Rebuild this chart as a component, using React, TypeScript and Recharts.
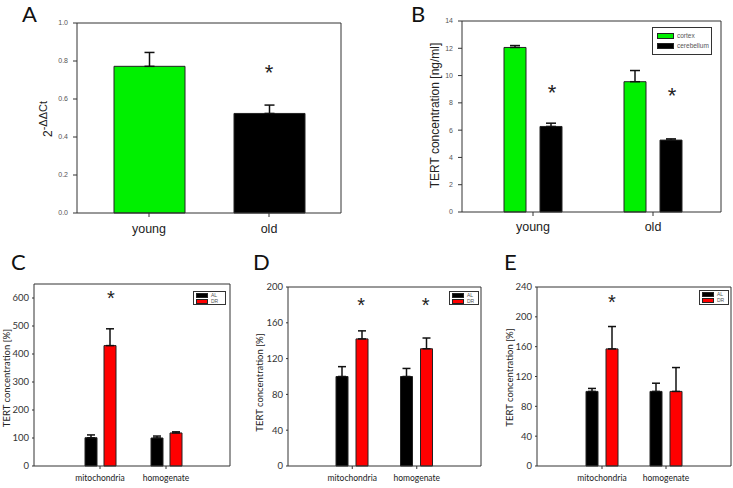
import React from "react";
import { BarChart, Bar, Cell, XAxis, YAxis, ErrorBar, ReferenceDot, Legend } from "recharts";

const ARIAL = '"Liberation Sans", Arial, sans-serif';
const CALIBRI = 'Lato, "Open Sans", sans-serif';
const GREEN = "#00f000";
const RED = "#ff0000";
const BLACK = "#000000";
const EDGE = "#222";

// A: 2^-ddCt by age
const ageGroups = ["young", "old"];
const exprA = [0.772, 0.524];
const exprErrA = [0.073, 0.044];
const starsA = [{ x: "old", y: 0.733 }];
const ticksA = [0, 0.2, 0.4, 0.6, 0.8, 1.0];

// B: TERT ng/ml, cortex vs cerebellum
const cortexB = [12.06, 9.55];
const cortexErrB = [0.14, 0.82];
const cerebellumB = [6.27, 5.27];
const cerebellumErrB = [0.24, 0.09];
const starsB = [{ x: "young", y: 8.65 }, { x: "old", y: 8.45 }];
const ticksB = [0, 2, 4, 6, 8, 10, 12, 14];
const seriesB = ["cortex", "cerebellum"];

// C-E: TERT % in mitochondria / homogenate, AL vs DR
const fractions = ["mitochondria", "homogenate"];
const dietGroups = ["AL", "DR"];

const alC = [101, 100];
const alErrC = [10, 7];
const drC = [430, 118];
const drErrC = [60, 4];
const starsC = [{ x: "mitochondria", y: 595 }];
const ticksC = [0, 100, 200, 300, 400, 500, 600];

const alD = [100, 100];
const alErrD = [11, 9];
const drD = [142, 131];
const drErrD = [9, 12];
const starsD = [{ x: "mitochondria", y: 178 }, { x: "homogenate", y: 178 }];
const ticksD = [0, 40, 80, 120, 160, 200];

const alE = [100, 100];
const alErrE = [4, 11];
const drE = [157, 100];
const drErrE = [30, 32];
const starsE = [{ x: "mitochondria", y: 218 }];
const ticksE = [0, 40, 80, 120, 160, 200, 240];

const barColorsA = [GREEN, BLACK];

const rowsA = ageGroups.map((g, i) => ({ group: g, value: exprA[i], err: [0, exprErrA[i]] }));
const rowsB = ageGroups.map((g, i) => ({
  group: g,
  cortex: cortexB[i],
  cortexErr: [0, cortexErrB[i]],
  cerebellum: cerebellumB[i],
  cerebellumErr: [0, cerebellumErrB[i]],
}));
const makeRows = (al: number[], alErr: number[], dr: number[], drErr: number[]) =>
  fractions.map((f, i) => ({ group: f, AL: al[i], alErr: [0, alErr[i]], DR: dr[i], drErr: [0, drErr[i]] }));
const rowsC = makeRows(alC, alErrC, drC, drErrC);
const rowsD = makeRows(alD, alErrD, drD, drErrD);
const rowsE = makeRows(alE, alErrE, drE, drErrE);

// eslint-disable-next-line @typescript-eslint/no-explicit-any
function VLabel({ viewBox, text, bx, dy = 0, size, family, sup }: any) {
  if (!viewBox) return null;
  const x = viewBox.x + bx;
  const y = viewBox.y + viewBox.height / 2 + dy;
  return (
    <text
      x={x}
      y={y}
      transform={`rotate(-90 ${x} ${y})`}
      textAnchor="middle"
      fontSize={size}
      fontFamily={family}
      fill="#222"
    >
      {text}
      {sup && (
        <tspan dy={-5} fontSize={size - 1}>
          {sup}
        </tspan>
      )}
    </text>
  );
}

function starShape(dx: number, size: number) {
  // eslint-disable-next-line @typescript-eslint/no-explicit-any
  return (p: any) => (
    <text x={p.cx + dx} y={p.cy + size * 0.28} textAnchor="middle" fontSize={size} fontFamily={ARIAL} fill="#222">
      *
    </text>
  );
}

type LegendItem = { name: string; color: string };

function BoxLegend({ items, font, size, sw, sh, gap, pad }: {
  items: LegendItem[];
  font: string;
  size: number;
  sw: number;
  sh: number;
  gap: number;
  pad: string;
}) {
  return (
    <div
      style={{
        boxSizing: "border-box",
        width: "100%",
        height: "100%",
        border: "1px solid #333",
        background: "#fff",
        padding: pad,
        display: "flex",
        flexDirection: "column",
        justifyContent: "center",
        gap,
      }}
    >
      {items.map((it) => (
        <div key={it.name} style={{ display: "flex", alignItems: "center" }}>
          <span
            style={{
              width: sw,
              height: sh,
              boxSizing: "border-box",
              background: it.color,
              border: "1px solid #222",
              flexShrink: 0,
            }}
          />
          <span style={{ marginLeft: 3, fontSize: size, lineHeight: 1, color: "#555", fontFamily: font }}>
            {it.name}
          </span>
        </div>
      ))}
    </div>
  );
}

const frameStroke = "#333";

function PanelA() {
  return (
    <BarChart width={370} height={245} data={rowsA} margin={{ top: 22, right: 28, left: 0, bottom: 0 }}>
      <XAxis
        dataKey="group"
        height={32}
        padding={{ left: 12, right: 12 }}
        tickSize={4}
        tickMargin={7}
        tick={{ fontSize: 12.5, fill: "#222", fontFamily: ARIAL }}
        axisLine={{ stroke: frameStroke }}
        tickLine={{ stroke: frameStroke }}
      />
      <XAxis xAxisId="top" dataKey="group" orientation="top" height={1} tick={false} tickLine={false} axisLine={{ stroke: frameStroke }} />
      <YAxis
        width={77}
        domain={[0, 1]}
        ticks={ticksA}
        interval={0}
        tickFormatter={(v: number) => v.toFixed(1)}
        tickSize={4}
        tickMargin={5}
        tick={{ fontSize: 7, fill: "#555", fontFamily: ARIAL }}
        axisLine={{ stroke: frameStroke }}
        tickLine={{ stroke: frameStroke }}
        label={<VLabel text="2" sup="-ΔΔCt" bx={52} dy={1} size={12} family={ARIAL} />}
      />
      <YAxis yAxisId="right" orientation="right" width={1} domain={[0, 1]} tick={false} tickLine={false} axisLine={{ stroke: frameStroke }} />
      <Bar dataKey="value" barSize={71} stroke={EDGE} isAnimationActive={false}>
        {rowsA.map((r, i) => (
          <Cell key={r.group} fill={barColorsA[i]} />
        ))}
        <ErrorBar dataKey="err" width={5} stroke="#111" direction="y" />
      </Bar>
      {starsA.map((s) => (
        <ReferenceDot key={s.x} x={s.x} y={s.y} r={0} shape={starShape(0, 22)} />
      ))}
    </BarChart>
  );
}

function PanelB() {
  const colors = [GREEN, BLACK];
  const items = seriesB.map((s, i) => ({ name: s, color: colors[i] }));
  return (
    <BarChart width={363} height={245} data={rowsB} margin={{ top: 20, right: 11, left: 0, bottom: 0 }} barGap={14}>
      <XAxis
        dataKey="group"
        height={33}
        padding={{ left: 11, right: 8 }}
        tickSize={4}
        tickMargin={6}
        tick={{ fontSize: 12.5, fill: "#222", fontFamily: ARIAL }}
        axisLine={{ stroke: frameStroke }}
        tickLine={{ stroke: frameStroke }}
      />
      <XAxis xAxisId="top" dataKey="group" orientation="top" height={1} tick={false} tickLine={false} axisLine={{ stroke: frameStroke }} />
      <YAxis
        width={92}
        domain={[0, 14]}
        ticks={ticksB}
        interval={0}
        tickSize={4}
        tickMargin={5}
        tick={{ fontSize: 7, fill: "#555", fontFamily: ARIAL }}
        axisLine={{ stroke: frameStroke }}
        tickLine={{ stroke: frameStroke }}
        label={<VLabel text="TERT concentration [ng/ml]" bx={69} dy={-1} size={12} family={ARIAL} />}
      />
      <YAxis yAxisId="right" orientation="right" width={1} domain={[0, 14]} tick={false} tickLine={false} axisLine={{ stroke: frameStroke }} />
      <Legend
        layout="vertical"
        align="center"
        verticalAlign="middle"
        wrapperStyle={{ left: 282, top: 27, width: 60, height: 28 }}
        content={() => <BoxLegend items={items} font={ARIAL} size={6.5} sw={17} sh={6} gap={3} pad="0 4px" />}
      />
      <Bar dataKey="cortex" name={seriesB[0]} fill={colors[0]} stroke={EDGE} barSize={22} isAnimationActive={false}>
        <ErrorBar dataKey="cortexErr" width={5} stroke="#111" direction="y" />
      </Bar>
      <Bar dataKey="cerebellum" name={seriesB[1]} fill={colors[1]} stroke={EDGE} barSize={22} isAnimationActive={false}>
        <ErrorBar dataKey="cerebellumErr" width={5} stroke="#111" direction="y" />
      </Bar>
      {starsB.map((s) => (
        <ReferenceDot key={s.x} x={s.x} y={s.y} r={0} shape={starShape(19, 22)} />
      ))}
    </BarChart>
  );
}

// eslint-disable-next-line @typescript-eslint/no-explicit-any
function PanelPct({ rows, ticks, max, stars, w, axisW, right, top, pad, gap, labelX, labelDy, legendPos, starDx }: any) {
  const colors = [BLACK, RED];
  const items = dietGroups.map((d, i) => ({ name: d, color: colors[i] }));
  return (
    <BarChart width={w} height={238} data={rows} margin={{ top: top - 1, right: right - 1, left: 0, bottom: 0 }} barGap={gap}>
      <XAxis
        dataKey="group"
        height={22}
        padding={pad}
        tickSize={3}
        tickMargin={6}
        tick={{ fontSize: 8.5, fill: "#222", fontFamily: CALIBRI }}
        axisLine={{ stroke: frameStroke }}
        tickLine={{ stroke: frameStroke }}
      />
      <XAxis xAxisId="top" dataKey="group" orientation="top" height={1} tick={false} tickLine={false} axisLine={{ stroke: frameStroke }} />
      <YAxis
        width={axisW}
        domain={[0, max]}
        ticks={ticks}
        interval={0}
        tickSize={2}
        tickMargin={3}
        tick={{ fontSize: 9.5, fill: "#333", fontFamily: CALIBRI }}
        axisLine={{ stroke: frameStroke }}
        tickLine={{ stroke: frameStroke }}
        label={<VLabel text="TERT concentration [%]" bx={labelX} dy={labelDy} size={9.5} family={CALIBRI} />}
      />
      <YAxis yAxisId="right" orientation="right" width={1} domain={[0, max]} tick={false} tickLine={false} axisLine={{ stroke: frameStroke }} />
      <Legend
        layout="vertical"
        align="center"
        verticalAlign="middle"
        wrapperStyle={legendPos}
        content={() => <BoxLegend items={items} font={ARIAL} size={5} sw={12} sh={5} gap={1} pad="0 2px" />}
      />
      <Bar dataKey="AL" name={dietGroups[0]} fill={colors[0]} stroke={EDGE} barSize={12} isAnimationActive={false}>
        <ErrorBar dataKey="alErr" width={4} stroke="#111" direction="y" />
      </Bar>
      <Bar dataKey="DR" name={dietGroups[1]} fill={colors[1]} stroke={EDGE} barSize={12} isAnimationActive={false}>
        <ErrorBar dataKey="drErr" width={4} stroke="#111" direction="y" />
      </Bar>
      {/* eslint-disable-next-line @typescript-eslint/no-explicit-any */}
      {stars.map((s: any) => (
        <ReferenceDot key={s.x} x={s.x} y={s.y} r={0} shape={starShape(starDx, 20)} />
      ))}
    </BarChart>
  );
}

const letters = [
  { t: "A", x: 22, y: 22 },
  { t: "B", x: 411, y: 22 },
  { t: "C", x: 11, y: 270 },
  { t: "D", x: 253, y: 270 },
  { t: "E", x: 504, y: 270 },
];

export default function App() {
  return (
    <div style={{ position: "absolute", left: 0, top: 0, width: 733, height: 488, background: "#fff", overflow: "hidden" }}>
      <svg width={733} height={488} style={{ position: "absolute", left: 0, top: 0 }}>
        {letters.map((l) => (
          <text key={l.t} x={l.x} y={l.y} fontSize={22} fontFamily={CALIBRI} fill="#111">
            {l.t}
          </text>
        ))}
      </svg>
      <div style={{ position: "absolute", left: 0, top: 0 }}>
        <PanelA />
      </div>
      <div style={{ position: "absolute", left: 370, top: 0 }}>
        <PanelB />
      </div>
      <div style={{ position: "absolute", left: 0, top: 250 }}>
        <PanelPct
          rows={rowsC}
          ticks={ticksC}
          max={650}
          stars={starsC}
          w={240}
          axisW={34}
          right={10}
          top={34}
          pad={{ left: 33, right: 31 }}
          gap={7}
          labelX={10}
          labelDy={3}
          legendPos={{ left: 193, top: 41, width: 33, height: 14 }}
          starDx={11}
        />
      </div>
      <div style={{ position: "absolute", left: 240, top: 250 }}>
        <PanelPct
          rows={rowsD}
          ticks={ticksD}
          max={200}
          stars={starsD}
          w={245}
          axisW={48}
          right={4}
          top={37}
          pad={{ left: 32, right: 32 }}
          gap={8}
          labelX={23}
          labelDy={6}
          legendPos={{ left: 209, top: 41, width: 30, height: 14 }}
          starDx={9}
        />
      </div>
      <div style={{ position: "absolute", left: 485, top: 250 }}>
        <PanelPct
          rows={rowsE}
          ticks={ticksE}
          max={240}
          stars={starsE}
          w={248}
          axisW={52}
          right={2}
          top={37}
          pad={{ left: 33, right: 33 }}
          gap={8}
          labelX={28}
          labelDy={1}
          legendPos={{ left: 214, top: 40, width: 30, height: 15 }}
          starDx={10}
        />
      </div>
    </div>
  );
}
